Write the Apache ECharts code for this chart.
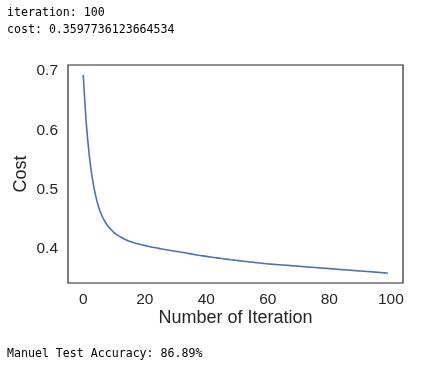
<!DOCTYPE html>
<html>
<head>
<meta charset="utf-8">
<script src="https://cdn.jsdelivr.net/npm/echarts@6/dist/echarts.min.js"></script>
<style>
html,body{margin:0;padding:0;background:#fff;}
#chart{width:425px;height:371px;}
</style>
</head>
<body>
<div id="chart"></div>
<script>
const iterations = Array.from({length: 100}, (_, i) => i);
const costValues = [
  0.6931, 0.612, 0.556, 0.518, 0.491, 0.471, 0.457, 0.447, 0.439, 0.433,
  0.428, 0.424, 0.421, 0.418, 0.4155, 0.4135, 0.4117, 0.4101, 0.4087, 0.4074,
  0.4062, 0.4050, 0.4039, 0.4029, 0.4019, 0.4009, 0.4000, 0.3991, 0.3982, 0.3974,
  0.3966, 0.3957, 0.3948, 0.3939, 0.3930, 0.3921, 0.3912, 0.3903, 0.3895, 0.3887,
  0.3879, 0.3871, 0.3864, 0.3857, 0.3850, 0.3843, 0.3836, 0.3829, 0.3822, 0.3816,
  0.3810, 0.3804, 0.3798, 0.3792, 0.3786, 0.3781, 0.3775, 0.3769, 0.3764, 0.3758,
  0.3753, 0.3749, 0.3745, 0.3741, 0.3737, 0.3733, 0.3729, 0.3725, 0.3721, 0.3717,
  0.3713, 0.3709, 0.3705, 0.3701, 0.3697, 0.3693, 0.3689, 0.3685, 0.3681, 0.3677,
  0.3673, 0.3669, 0.3665, 0.3661, 0.3657, 0.3653, 0.3649, 0.3646, 0.3642, 0.3638,
  0.3634, 0.3630, 0.3626, 0.3622, 0.3618, 0.3614, 0.3610, 0.3606, 0.3602, 0.3598
];
const xTicks = [0, 20, 40, 60, 80, 100];
const yTicks = [0.4, 0.5, 0.6, 0.7];
const headerLines = ['iteration: 100', 'cost: 0.3597736123664534'];
const footerText = 'Manuel Test Accuracy: 86.89%';
const xLabel = 'Number of Iteration';
const yLabel = 'Cost';

const xMin = -0.05 * 99, xMax = 99 + 0.05 * 99;
const yLo = Math.min(...costValues), yHi = Math.max(...costValues);
const yPad = 0.05 * (yHi - yLo);

const chart = echarts.init(document.getElementById('chart'), null, {renderer: 'canvas'});
const monoFont = '"DejaVu Sans Mono", "Liberation Mono", monospace';
const sansFont = '"Liberation Sans", Arial, sans-serif';
chart.setOption({
  animation: false,
  backgroundColor: '#ffffff',
  grid: {
    left: 68, right: 22, top: 65, bottom: 88,
    show: true, borderColor: '#262626', borderWidth: 1.2, backgroundColor: 'transparent'
  },
  graphic: [
    {type: 'text', left: 7, top: 7, style: {text: headerLines[0], font: '11.6px ' + monoFont, fill: '#000'}},
    {type: 'text', left: 7, top: 24, style: {text: headerLines[1], font: '11.6px ' + monoFont, fill: '#000'}},
    {type: 'text', left: 7, top: 348, style: {text: footerText, font: '11.6px ' + monoFont, fill: '#000'}}
  ],
  xAxis: {
    type: 'value', min: xMin, max: xMax,
    name: xLabel, nameLocation: 'middle', nameGap: 26, nameMoveOverlap: false,
    nameTextStyle: {fontSize: 18, fontFamily: sansFont, color: '#262626'},
    axisLine: {show: false}, axisTick: {show: false},
    splitLine: {show: false},
    axisLabel: {customValues: xTicks, fontSize: 15.5, fontFamily: sansFont, color: '#262626', margin: 9}
  },
  yAxis: {
    type: 'value', min: yLo - yPad, max: yHi + yPad,
    name: yLabel, nameLocation: 'middle', nameGap: 38, nameMoveOverlap: false,
    nameTextStyle: {fontSize: 18, fontFamily: sansFont, color: '#262626'},
    axisLine: {show: false}, axisTick: {show: false},
    splitLine: {show: false},
    axisLabel: {customValues: yTicks, fontSize: 15.5, fontFamily: sansFont, color: '#262626', margin: 10,
      formatter: v => v.toFixed(1)}
  },
  series: [{
    type: 'line',
    data: iterations.map((x, i) => [x, costValues[i]]),
    showSymbol: false,
    lineStyle: {color: '#4C72B0', width: 1.6},
    smooth: 0.3
  }]
});
</script>
</body>
</html>
